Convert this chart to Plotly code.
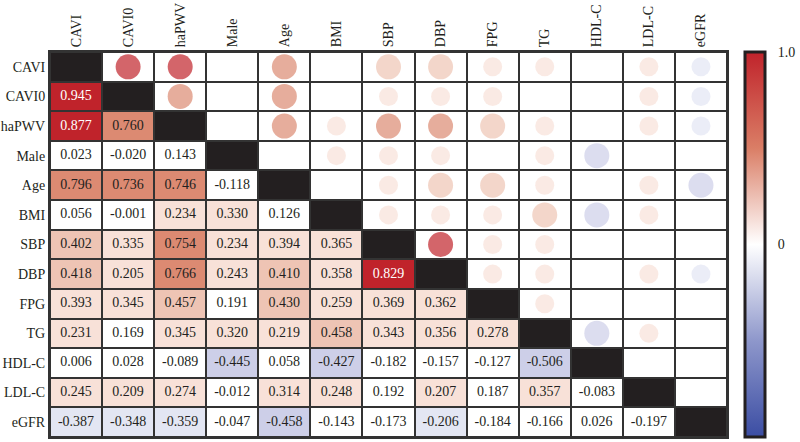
import plotly.graph_objects as go

variables = ["CAVI", "CAVI0", "haPWV", "Male", "Age", "BMI", "SBP", "DBP",
             "FPG", "TG", "HDL-C", "LDL-C", "eGFR"]

# lower-triangle correlation values, row by row
r_CAVI = []
r_CAVI0 = [0.945]
r_haPWV = [0.877, 0.760]
r_Male = [0.023, -0.020, 0.143]
r_Age = [0.796, 0.736, 0.746, -0.118]
r_BMI = [0.056, -0.001, 0.234, 0.330, 0.126]
r_SBP = [0.402, 0.335, 0.754, 0.234, 0.394, 0.365]
r_DBP = [0.418, 0.205, 0.766, 0.243, 0.410, 0.358, 0.829]
r_FPG = [0.393, 0.345, 0.457, 0.191, 0.430, 0.259, 0.369, 0.362]
r_TG = [0.231, 0.169, 0.345, 0.320, 0.219, 0.458, 0.343, 0.356, 0.278]
r_HDL = [0.006, 0.028, -0.089, -0.445, 0.058, -0.427, -0.182, -0.157, -0.127, -0.506]
r_LDL = [0.245, 0.209, 0.274, -0.012, 0.314, 0.248, 0.192, 0.207, 0.187, 0.357, -0.083]
r_eGFR = [-0.387, -0.348, -0.359, -0.047, -0.458, -0.143, -0.173, -0.206, -0.184,
          -0.166, 0.026, -0.197]

lower_rows = [r_CAVI, r_CAVI0, r_haPWV, r_Male, r_Age, r_BMI, r_SBP, r_DBP,
              r_FPG, r_TG, r_HDL, r_LDL, r_eGFR]

colorbar_ticks = [-1.0, 0.0, 1.0]
colorbar_ticktext = ["-1.0", "0", "1.0"]

n = len(variables)
R = [[None] * n for _ in range(n)]
for i, row in enumerate(lower_rows):
    for j, v in enumerate(row):
        R[i][j] = v
        R[j][i] = v

# discrete levels
level_colors = ["#CDCFE8", "#E3E6F3", "#FFFFFF", "#F8E1D8", "#EEC4B4",
                "#DC8A72", "#C0232B", "#231F20"]
LV_MIN = -2


def level(v):
    if v >= 0.8:
        return 4
    if v >= 0.6:
        return 3
    if v >= 0.4:
        return 2
    if v >= 0.2:
        return 1
    if v > -0.2:
        return 0
    if v > -0.4:
        return -1
    return -2


nl = len(level_colors)
dscale = []
for k, c in enumerate(level_colors):
    dscale.append([k / nl, c])
    dscale.append([(k + 1) / nl, c])

z = []
for i in range(n):
    zr = []
    for j in range(n):
        if i == j:
            zr.append(5)
        elif j < i:
            zr.append(level(R[i][j]))
        else:
            zr.append(0)
    z.append(zr)

fig = go.Figure()
fig.add_trace(go.Heatmap(
    x=variables, y=variables, z=z, colorscale=dscale,
    zmin=LV_MIN - 0.5, zmax=LV_MIN - 0.5 + nl, showscale=False,
    xgap=2, ygap=2, hoverinfo="skip"))

# upper-triangle circles
cx, cy, cc, cs = [], [], [], []
for i in range(n):
    for j in range(i + 1, n):
        v = R[i][j]
        if abs(v) >= 0.2:
            cx.append(variables[j])
            cy.append(variables[i])
            cc.append(level_colors[level(v) - LV_MIN])
            cs.append(25 if abs(v) >= 0.4 else 19)
fig.add_trace(go.Scatter(x=cx, y=cy, mode="markers",
                         marker=dict(size=cs, color=cc, line=dict(width=0)),
                         hoverinfo="skip", showlegend=False))

# lower-triangle text
tx, ty, tt, tc = [], [], [], []
for i in range(n):
    for j in range(i):
        v = R[i][j]
        tx.append(variables[j])
        ty.append(variables[i])
        tt.append(f"{v:.3f}")
        tc.append("white" if v >= 0.8 else "#231F20")
fig.add_trace(go.Scatter(x=tx, y=ty, mode="text", text=tt,
                         textfont=dict(family="Liberation Serif", size=14, color=tc),
                         hoverinfo="skip", showlegend=False))

# colorbar carrier (invisible)
fig.add_trace(go.Scatter(
    x=[variables[0]], y=[variables[0]], mode="markers",
    marker=dict(size=1, opacity=0, color=[0], cmin=-1, cmax=1,
                colorscale=[[0, "#3B4DA3"], [0.25, "#8E97CB"], [0.5, "#FFFFFF"],
                            [0.75, "#DA7E66"], [1, "#C0232B"]],
                showscale=True,
                colorbar=dict(x=1.027, xanchor="left", xpad=0, y=0.5, yanchor="middle",
                              len=1, lenmode="fraction", thickness=20, ypad=0,
                              outlinewidth=3, outlinecolor="#231F20",
                              tickmode="array",
                              tickvals=colorbar_ticks, ticktext=colorbar_ticktext,
                              ticks="outside", ticklen=9, tickcolor="rgba(0,0,0,0)",
                              tickfont=dict(family="Liberation Serif", size=14, color="#231F20"))),
    hoverinfo="skip", showlegend=False))

fig.update_layout(
    width=800, height=442,
    margin=dict(l=50, r=73, t=52, b=5, autoexpand=False),
    paper_bgcolor="white", plot_bgcolor="#333333",
    font=dict(family="Liberation Serif", size=14, color="#231F20"),
    showlegend=False,
    xaxis=dict(side="top", tickangle=-90, type="category",
               categoryorder="array", categoryarray=variables,
               range=[-0.5, n - 0.5], automargin=False,
               showgrid=False, zeroline=False, showline=True, mirror=True,
               linecolor="#333333", linewidth=2, ticks="", fixedrange=True),
    yaxis=dict(type="category", categoryorder="array", categoryarray=variables,
               range=[n - 0.5, -0.5], automargin=False, showgrid=False, zeroline=False,
               showline=True, mirror=True, linecolor="#333333", linewidth=2,
               ticks="", fixedrange=True),
)

fig.write_html("out.html", config={"displayModeBar": False},
               post_script="document.body.style.margin='0';document.body.style.padding='0';")
